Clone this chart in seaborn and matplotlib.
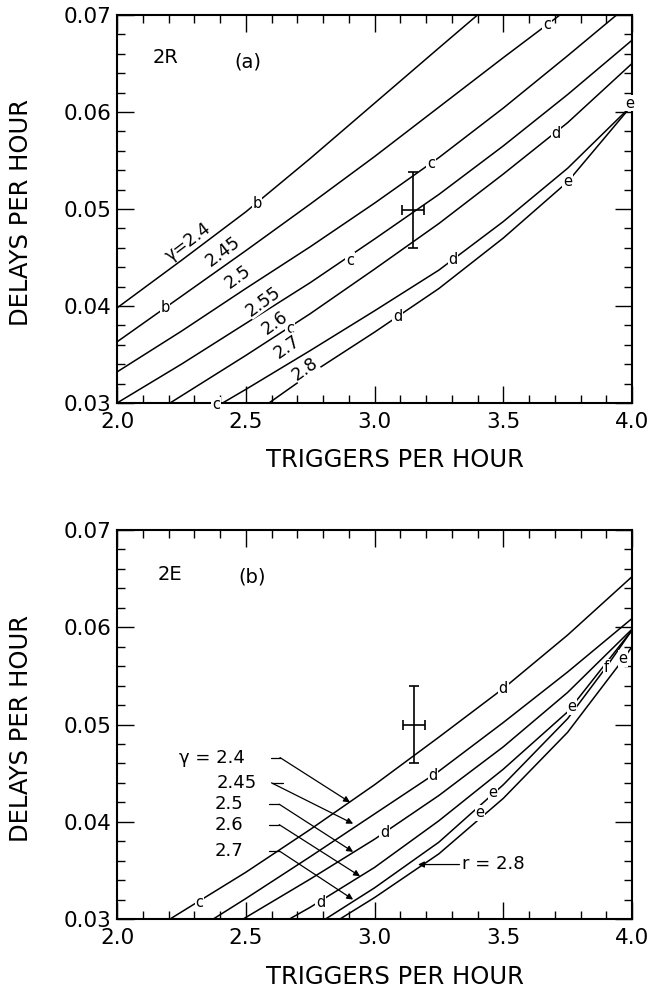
import numpy as np
import pandas as pd
import matplotlib
matplotlib.use("Agg")
import matplotlib.pyplot as plt
from matplotlib.ticker import MultipleLocator, FormatStrFormatter
import seaborn as sns

# ---------------- data: panel (a) 2R ----------------
gammas_a = ["2.4", "2.45", "2.5", "2.55", "2.6", "2.7", "2.8"]
a_x_24 = [2.0, 2.25, 2.5, 2.75, 3.0, 3.25, 3.4]
a_y_24 = [0.0398, 0.0447, 0.0497, 0.0552, 0.0609, 0.0666, 0.0700]
a_x_245 = [2.0, 2.25, 2.5, 2.75, 3.0, 3.25, 3.5, 3.72]
a_y_245 = [0.0363, 0.0410, 0.0457, 0.0505, 0.0554, 0.0605, 0.0656, 0.0700]
a_x_25 = [2.0, 2.25, 2.5, 2.75, 3.0, 3.25, 3.5, 3.75, 3.94]
a_y_25 = [0.0332, 0.0374, 0.0418, 0.0461, 0.0506, 0.0553, 0.0604, 0.0658, 0.0700]
a_x_255 = [2.0, 2.25, 2.5, 2.75, 3.0, 3.25, 3.5, 3.75, 4.0]
a_y_255 = [0.0300, 0.0340, 0.0382, 0.0424, 0.0469, 0.0515, 0.0565, 0.0618, 0.0674]
a_x_26 = [2.206, 2.5, 2.75, 3.0, 3.25, 3.5, 3.75, 4.0]
a_y_26 = [0.0300, 0.0349, 0.0392, 0.0438, 0.0485, 0.0536, 0.0589, 0.0650]
a_x_27 = [2.41, 2.5, 2.75, 3.0, 3.25, 3.5, 3.75, 4.0]
a_y_27 = [0.0300, 0.0314, 0.0354, 0.0395, 0.0437, 0.0487, 0.0542, 0.0607]
a_x_28 = [2.59, 2.75, 3.0, 3.25, 3.5, 3.75, 4.0]
a_y_28 = [0.0300, 0.0330, 0.0373, 0.0418, 0.0470, 0.0528, 0.0607]

# ---------------- data: panel (b) 2E ----------------
gammas_b = ["2.4", "2.45", "2.5", "2.6", "2.7", "2.8"]
b_x_24 = [2.206, 2.5, 2.75, 3.0, 3.25, 3.5, 3.75, 4.0]
b_y_24 = [0.0300, 0.0348, 0.0392, 0.0438, 0.0487, 0.0537, 0.0592, 0.0652]
b_x_245 = [2.374, 2.5, 2.75, 3.0, 3.25, 3.5, 3.75, 4.0]
b_y_245 = [0.0300, 0.0321, 0.0364, 0.0408, 0.0452, 0.0502, 0.0554, 0.0609]
b_x_25 = [2.49, 2.75, 3.0, 3.25, 3.5, 3.75, 4.0]
b_y_25 = [0.0300, 0.0341, 0.0382, 0.0427, 0.0477, 0.0533, 0.0598]
b_x_26 = [2.67, 2.75, 3.0, 3.25, 3.5, 3.75, 4.0]
b_y_26 = [0.0300, 0.0312, 0.0353, 0.0401, 0.0454, 0.0513, 0.0597]
b_x_27 = [2.81, 3.0, 3.25, 3.5, 3.75, 3.9, 4.0]
b_y_27 = [0.0300, 0.0332, 0.0379, 0.0438, 0.0506, 0.0559, 0.0597]
b_x_28 = [2.866, 3.0, 3.25, 3.5, 3.75, 3.96, 4.0]
b_y_28 = [0.0300, 0.0322, 0.0367, 0.0424, 0.0492, 0.0565, 0.0580]

# measured point with error bars
obs_a_x, obs_a_y, obs_a_xerr, obs_a_yerr = [3.15], [0.0499], [0.042], [0.0039]
obs_b_x, obs_b_y, obs_b_xerr, obs_b_yerr = [3.154], [0.0500], [0.042], [0.0040]

# curve letter marks (letter, x, y)
marks_a = [("b", 2.544, 0.0506), ("b", 2.186, 0.0398), ("c", 3.67, 0.0690),
           ("c", 3.22, 0.0547), ("c", 2.905, 0.0447), ("c", 2.672, 0.0377),
           ("c", 2.385, 0.0298), ("d", 3.705, 0.0578), ("d", 3.305, 0.0448),
           ("d", 3.09, 0.0389), ("e", 3.75, 0.0528), ("e", 3.99, 0.0609)]
marks_b = [("c", 2.32, 0.0317), ("d", 3.50, 0.0537), ("d", 3.227, 0.0448),
           ("d", 3.04, 0.0389), ("d", 2.79, 0.0317), ("e", 3.767, 0.0518),
           ("e", 3.46, 0.0430), ("e", 3.41, 0.0409), ("f", 3.90, 0.0559),
           ("e", 3.965, 0.0568)]

# rotated gamma labels on panel (a): text, x, y, angle
labels_a = [("γ=2.4", 2.277, 0.0466, 37), ("2.45", 2.41, 0.0456, 37),
            ("2.5", 2.47, 0.0430, 36), ("2.55", 2.567, 0.0405, 36),
            ("2.6", 2.614, 0.0383, 36), ("2.7", 2.66, 0.0358, 35),
            ("2.8", 2.73, 0.0335, 35)]

# leader labels on panel (b): text, text-x (right end), y, knee-x, tip-x, tip-y
labels_b = [("γ = 2.4", 2.497, 0.0466, 2.633, 2.905, 0.0420),
            ("2.45", 2.544, 0.0440, 2.60, 2.917, 0.0398),
            ("2.5", 2.489, 0.0418, 2.63, 2.917, 0.0369),
            ("2.6", 2.489, 0.0397, 2.63, 2.944, 0.0344),
            ("2.7", 2.489, 0.0370, 2.63, 2.917, 0.0320)]

def frame(gs, xs, ys):
    rows = []
    for g, x, y in zip(gs, xs, ys):
        rows.append(pd.DataFrame({"x": x, "y": y, "gamma": g}))
    return pd.concat(rows, ignore_index=True)

df_a = frame(gammas_a, [a_x_24, a_x_245, a_x_25, a_x_255, a_x_26, a_x_27, a_x_28],
             [a_y_24, a_y_245, a_y_25, a_y_255, a_y_26, a_y_27, a_y_28])
df_b = frame(gammas_b, [b_x_24, b_x_245, b_x_25, b_x_26, b_x_27, b_x_28],
             [b_y_24, b_y_245, b_y_25, b_y_26, b_y_27, b_y_28])

sns.set_style("ticks")
plt.rcParams["font.family"] = ["DejaVu Sans"]
for k in ("text.color", "axes.labelcolor", "xtick.color", "ytick.color",
          "axes.edgecolor"):
    plt.rcParams[k] = "black"

fig = plt.figure(figsize=(6.49, 9.89), dpi=100)
ax_a = fig.add_axes([117/649, 1-403/989, 515/649, 388/989])
ax_b = fig.add_axes([117/649, 1-919/989, 515/649, 389/989])

def style_axes(ax):
    ax.set_xlim(2.0, 4.0)
    ax.set_ylim(0.03, 0.07)
    ax.xaxis.set_major_locator(MultipleLocator(0.5))
    ax.xaxis.set_minor_locator(MultipleLocator(0.1))
    ax.yaxis.set_major_locator(MultipleLocator(0.01))
    ax.yaxis.set_minor_locator(MultipleLocator(0.002))
    ax.xaxis.set_major_formatter(FormatStrFormatter("%.1f"))
    ax.yaxis.set_major_formatter(FormatStrFormatter("%.2f"))
    ax.tick_params(which="both", direction="in", top=True, right=True,
                   width=1.0, color="black", labelcolor="black")
    ax.tick_params(which="major", length=12, labelsize=15.5)
    ax.tick_params(which="minor", length=5.5)
    ax.tick_params(axis="x", pad=6.5)
    ax.tick_params(axis="y", pad=4)
    for s in ax.spines.values():
        s.set_linewidth(1.5)
        s.set_color("black")
    ax.set_xlabel("TRIGGERS PER HOUR", fontsize=17.5, color="black")
    ax.set_ylabel("DELAYS PER HOUR", fontsize=17.5, color="black")
    ax.yaxis.set_label_coords(-0.163, 0.49)

for ax, df in ((ax_a, df_a), (ax_b, df_b)):
    sns.lineplot(data=df, x="x", y="y", units="gamma", estimator=None,
                 sort=False, color="black", lw=1.1, ax=ax, legend=False)
    style_axes(ax)

ax_a.xaxis.set_label_coords(0.54, -0.117)
ax_b.xaxis.set_label_coords(0.54, -0.119)

# error bars
ax_a.errorbar(obs_a_x, obs_a_y, xerr=obs_a_xerr, yerr=obs_a_yerr, fmt="none",
              ecolor="black", elinewidth=1.2, capsize=3.5, capthick=1.2)
ax_b.errorbar(obs_b_x, obs_b_y, xerr=obs_b_xerr, yerr=obs_b_yerr, fmt="none",
              ecolor="black", elinewidth=1.2, capsize=3.5, capthick=1.2)

# curve letter marks
for ax, marks in ((ax_a, marks_a), (ax_b, marks_b)):
    for t, x, y in marks:
        ax.text(x, y, t, fontsize=10.5, ha="center", va="center",
                bbox=dict(boxstyle="square,pad=0.05", fc="white", ec="none"),
                zorder=5, clip_on=False)

# panel identifiers
ax_a.text(2.19, 0.0656, "2R", fontsize=14, ha="center", va="center")
ax_a.text(2.51, 0.0652, "(a)", fontsize=14, ha="center", va="center")
ax_b.text(2.206, 0.0654, "2E", fontsize=14, ha="center", va="center")
ax_b.text(2.524, 0.0652, "(b)", fontsize=14, ha="center", va="center")

# rotated labels in (a)
for t, x, y, ang in labels_a:
    ax_a.text(x, y, t, fontsize=12.5, ha="center", va="center", rotation=ang,
              rotation_mode="anchor",
              bbox=dict(boxstyle="square,pad=0.0", fc="white", ec="none"),
              zorder=5)

# leader labels in (b)
for t, xt, y, xk, xtip, ytip in labels_b:
    ax_b.text(xt, y, t, fontsize=13, ha="right", va="center")
    ax_b.plot([xt + 0.1, xk], [y, y], color="black", lw=0.9)
    ax_b.annotate("", xy=(xtip, ytip), xytext=(xk, y),
                  arrowprops=dict(arrowstyle="-|>", color="black", lw=0.9,
                                  mutation_scale=9, shrinkA=0, shrinkB=0))
ax_b.text(3.34, 0.0357, "r = 2.8", fontsize=13, ha="left", va="center")
ax_b.annotate("", xy=(3.169, 0.0356), xytext=(3.33, 0.0356),
              arrowprops=dict(arrowstyle="-|>", color="black", lw=0.9,
                              mutation_scale=9, shrinkA=0, shrinkB=0))

fig.savefig("out.png", dpi=100, facecolor="white")
